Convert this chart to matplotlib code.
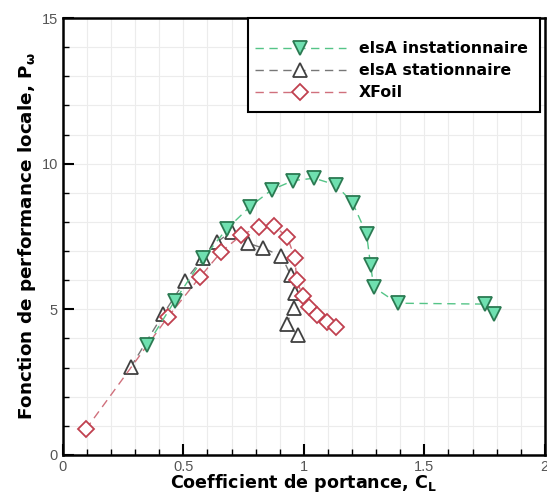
import matplotlib
matplotlib.use("Agg")
import matplotlib.pyplot as plt
from matplotlib.ticker import MultipleLocator
from matplotlib.patches import Rectangle

plt.rcParams['font.family'] = ['DejaVu Sans']
plt.rcParams['mathtext.fontset'] = 'dejavusans'
plt.rcParams['mathtext.default'] = 'bf'

# elsA instationnaire
cl_inst = [0.350, 0.465, 0.582, 0.679, 0.776, 0.866, 0.956, 1.043, 1.133,
           1.202, 1.260, 1.277, 1.290, 1.389, 1.751, 1.790]
p_inst = [3.78, 5.30, 6.75, 7.75, 8.52, 9.10, 9.42, 9.50, 9.27,
          8.66, 7.59, 6.52, 5.76, 5.21, 5.18, 4.84]

# elsA stationnaire
cl_stat = [0.281, 0.416, 0.506, 0.581, 0.639, 0.700, 0.769, 0.831, 0.907,
           0.945, 0.963, 0.958, 0.928, 0.976]
p_stat = [3.01, 4.83, 5.97, 6.76, 7.31, 7.67, 7.27, 7.10, 6.83,
          6.18, 5.57, 5.04, 4.50, 4.12]

# XFoil
cl_xfoil = [0.095, 0.437, 0.568, 0.658, 0.741, 0.815, 0.876, 0.931, 0.963,
            0.970, 0.995, 1.022, 1.055, 1.094, 1.133]
p_xfoil = [0.88, 4.75, 6.10, 6.98, 7.55, 7.84, 7.86, 7.49, 6.75,
           6.01, 5.45, 5.09, 4.81, 4.58, 4.38]

x_ticks = [0, 0.5, 1, 1.5, 2]
x_ticklabels = ['0', '0.5', '1', '1.5', '2']
y_ticks = [0, 5, 10, 15]
y_ticklabels = ['0', '5', '10', '15']

fig = plt.figure(figsize=(5.47, 5.0), dpi=100)
ax = fig.add_axes([0.115, 0.09, 0.881, 0.874])

dash = (0, (6, 4))
ax.plot(cl_inst, p_inst, linestyle=dash, lw=1.0, color='#55c487',
        marker='v', markersize=10, markerfacecolor='#6fe0b0',
        markeredgecolor='#2b7a52', markeredgewidth=1.3,
        label='elsA instationnaire', zorder=4)
ax.plot(cl_stat, p_stat, linestyle=dash, lw=1.0, color='#777777',
        marker='^', markersize=10, markerfacecolor='white',
        markeredgecolor='#404040', markeredgewidth=1.3,
        label='elsA stationnaire', zorder=3)
ax.plot(cl_xfoil, p_xfoil, linestyle=dash, lw=1.0, color='#d0707c',
        marker='D', markersize=8.5, markerfacecolor='white',
        markeredgecolor='#c0404f', markeredgewidth=1.3,
        label='XFoil', zorder=3)

ax.set_xlim(0, 2)
ax.set_ylim(0, 15)
ax.xaxis.set_minor_locator(MultipleLocator(0.1))
ax.yaxis.set_minor_locator(MultipleLocator(1))
ax.set_xticks(x_ticks)
ax.set_xticklabels(x_ticklabels)
ax.set_yticks(y_ticks)
ax.set_yticklabels(y_ticklabels)
for lab in ax.get_xticklabels() + ax.get_yticklabels():
    lab.set_family('Liberation Sans')

ax.grid(which='both', color='#ececec', lw=0.8)
ax.set_axisbelow(True)
ax.tick_params(which='both', direction='in', top=False, right=False,
               labelsize=10.5, labelcolor='#555555', color='black')
ax.tick_params(which='major', length=8, width=1.5)
ax.tick_params(which='minor', length=4, width=1.0)
for s in ax.spines.values():
    s.set_linewidth(1.8)

ax.set_xlabel(r'Coefficient de portance, C$_L$', fontsize=12.6,
              fontweight='bold', labelpad=-1)
ax.set_ylabel(r'Fonction de performance locale, P$_\omega$', fontsize=13.2,
              fontweight='bold', labelpad=3)

# legend frame (axes fraction)
ax.add_patch(Rectangle((0.384, 0.785), 0.606, 0.215, transform=ax.transAxes,
                       facecolor='white', edgecolor='black', lw=1.5,
                       zorder=5, clip_on=False))
leg = ax.legend(loc='upper left', bbox_to_anchor=(0.398, 0.947),
                borderaxespad=0, borderpad=0, frameon=False,
                handlelength=5.8, handletextpad=0.85,
                prop={'weight': 'bold', 'size': 11.3}, labelspacing=0.45)
leg.set_zorder(6)

fig.savefig('out.png', dpi=100)
